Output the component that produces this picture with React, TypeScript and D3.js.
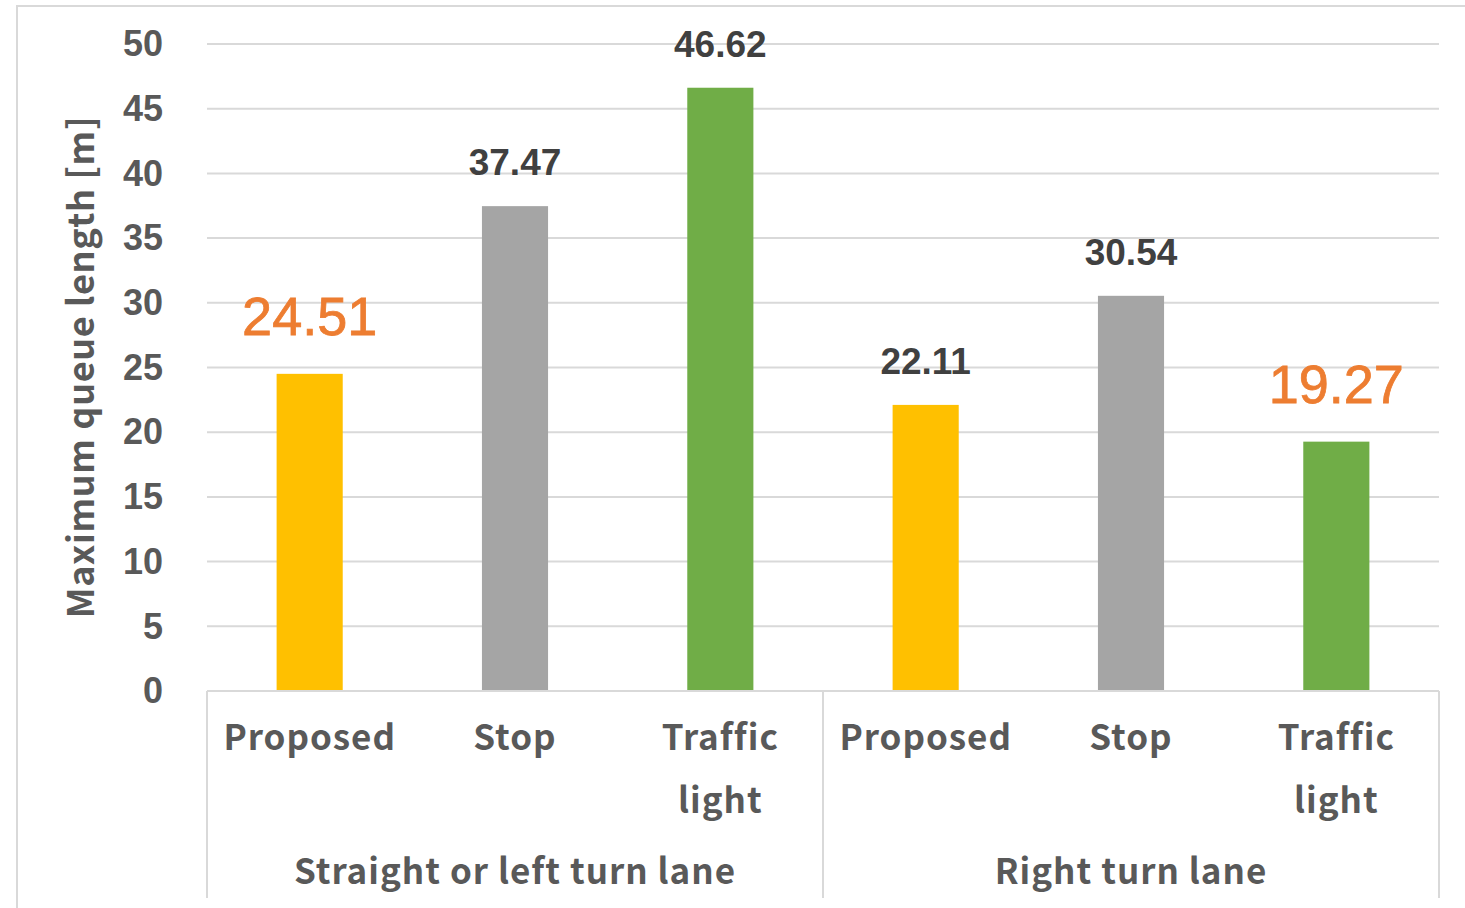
import React from "react";
import * as d3 from "d3";

// Maximum queue length per control method, grouped by lane
const groups = ["Straight or left turn lane", "Right turn lane"];
const methods = ["Proposed", "Stop", "Traffic light"];
const straightLaneValues = [24.51, 37.47, 46.62];
const rightLaneValues = [22.11, 30.54, 19.27];
const yTicks = [0, 5, 10, 15, 20, 25, 30, 35, 40, 45, 50];
const methodColors = ["#FFC000", "#A5A5A5", "#70AD47"];

const W = 1465;
const H = 908;
const plot = { left: 207, right: 1439, top: 44, bottom: 691 };

const JP = "'Noto Sans CJK JP', 'Noto Sans', sans-serif";
const NUM = "'Liberation Sans', Arial, sans-serif";

export default function App() {
  const groupValues = [straightLaneValues, rightLaneValues];
  const bars = groupValues.flatMap((vals, gi) => {
    const minV = d3.min(vals) as number;
    return vals.map((v, mi) => ({
      key: `${gi}-${mi}`,
      group: gi,
      method: mi,
      value: v,
      best: v === minV,
    }));
  });

  const x = d3
    .scaleBand<string>()
    .domain(bars.map((b) => b.key))
    .range([plot.left, plot.right])
    .paddingInner(0)
    .paddingOuter(0);
  const barW = x.step() * 0.322;

  const y = d3.scaleLinear().domain([0, 50]).range([plot.bottom, plot.top]);

  const groupScale = d3
    .scaleBand<string>()
    .domain(groups)
    .range([plot.left, plot.right]);

  const grid = "#D9D9D9";
  const textGray = "#595959";
  const labelStyle = { letterSpacing: "1px" };

  return (
    <svg
      width={W}
      height={H}
      style={{ position: "absolute", left: 0, top: 0, background: "#fff" }}
    >
      {/* chart frame */}
      <rect x={17} y={6} width={1600} height={1000} fill="#fff" stroke={grid} strokeWidth={2} />

      {/* horizontal gridlines */}
      {yTicks.map((t) => (
        <line
          key={t}
          x1={plot.left}
          x2={plot.right}
          y1={y(t)}
          y2={y(t)}
          stroke={grid}
          strokeWidth={2}
        />
      ))}

      {/* y tick labels */}
      {yTicks.map((t) => (
        <text
          key={`yl-${t}`}
          x={163}
          y={y(t)}
          dy="0.34em"
          textAnchor="end"
          fontFamily={NUM}
          fontWeight="bold"
          fontSize={36}
          fill={textGray}
        >
          {t}
        </text>
      ))}

      {/* y axis title */}
      <text
        transform="translate(94, 367) rotate(-90)"
        textAnchor="middle"
        fontFamily={JP}
        fontWeight={700}
        fontSize={36}
        fill={textGray}
        style={{ letterSpacing: "0.6px" }}
      >
        Maximum queue length [m]
      </text>

      {/* bars */}
      {bars.map((b) => {
        const cx = (x(b.key) as number) + x.bandwidth() / 2;
        return (
          <rect
            key={b.key}
            x={cx - barW / 2}
            y={y(b.value)}
            width={barW}
            height={y(0) - y(b.value)}
            fill={methodColors[b.method]}
          />
        );
      })}

      {/* value labels */}
      {bars.map((b) => {
        const cx = (x(b.key) as number) + x.bandwidth() / 2;
        return b.best ? (
          <text
            key={`v-${b.key}`}
            x={cx}
            y={y(b.value) - 39}
            textAnchor="middle"
            fontFamily={NUM}
            fontSize={54}
            fill="#ED7D31"
            stroke="#ED7D31"
            strokeWidth={0.8}
          >
            {b.value.toFixed(2)}
          </text>
        ) : (
          <text
            key={`v-${b.key}`}
            x={cx}
            y={y(b.value) - 31}
            textAnchor="middle"
            fontFamily={NUM}
            fontWeight="bold"
            fontSize={37}
            fill="#404040"
          >
            {b.value.toFixed(2)}
          </text>
        );
      })}

      {/* category axis line and group separators */}
      <line x1={plot.left} x2={plot.right} y1={plot.bottom} y2={plot.bottom} stroke={grid} strokeWidth={2} />
      {[plot.left, ...groups.map((g) => (groupScale(g) as number) + groupScale.bandwidth())].map((sx, i) => (
        <line key={`sep-${i}`} x1={sx} x2={sx} y1={plot.bottom} y2={898} stroke={grid} strokeWidth={2} />
      ))}

      {/* method labels */}
      {bars.map((b) => {
        const cx = (x(b.key) as number) + x.bandwidth() / 2;
        const words = methods[b.method].split(" ");
        return (
          <text
            key={`m-${b.key}`}
            x={cx}
            y={750}
            textAnchor="middle"
            fontFamily={JP}
            fontWeight={700}
            fontSize={35}
            fill={textGray}
            style={labelStyle}
          >
            {words.map((w, i) => (
              <tspan key={w} x={cx} y={750 + i * 63}>
                {w}
              </tspan>
            ))}
          </text>
        );
      })}

      {/* group labels */}
      {groups.map((g) => (
        <text
          key={g}
          x={(groupScale(g) as number) + groupScale.bandwidth() / 2}
          y={884}
          textAnchor="middle"
          fontFamily={JP}
          fontWeight={700}
          fontSize={35}
          fill={textGray}
          style={labelStyle}
        >
          {g}
        </text>
      ))}
    </svg>
  );
}
